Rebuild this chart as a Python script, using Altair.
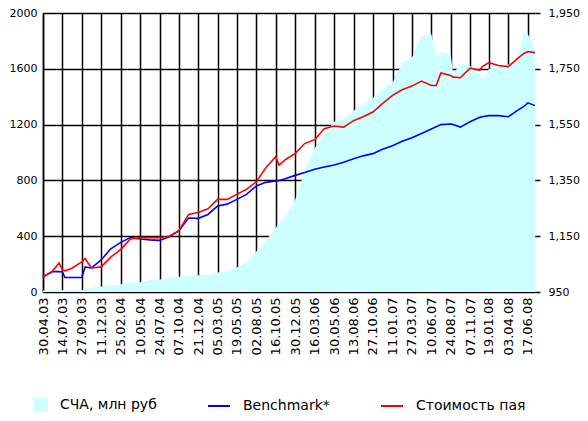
import altair as alt
import pandas as pd

# ---- data ----
dates = [
    "30.04.03", "06.06.03", "01.07.03", "14.07.03", "24.07.03", "20.08.03", "27.09.03", "10.10.03",
    "03.11.03", "11.12.03", "17.01.04", "25.02.04", "02.04.04", "10.05.04", "16.06.04", "24.07.04",
    "30.08.04", "07.10.04", "13.11.04", "21.12.04", "27.01.05", "05.03.05", "11.04.05", "19.05.05",
    "25.06.05", "02.08.05", "08.09.05", "16.10.05", "29.10.05", "22.11.05", "30.12.05", "05.02.06",
    "16.03.06", "22.04.06", "30.05.06", "06.07.06", "13.08.06", "19.09.06", "27.10.06", "03.12.06",
    "11.01.07", "17.02.07", "27.03.07", "03.05.07", "10.06.07", "29.06.07", "17.07.07", "24.08.07",
    "03.09.07", "30.09.07", "07.11.07", "14.12.07", "24.12.07", "19.01.08", "25.02.08", "03.04.08",
    "10.05.08", "02.06.08", "17.06.08", "15.07.08",
]
nav = [
    10, 12, 12, 12, 12, 13, 14, 15,
    30, 40, 45, 55, 65, 70, 85, 90,
    100, 110, 115, 120, 125, 140, 150, 175,
    210, 290, 370, 460, 490, 540, 660, 870,
    1030, 1130, 1220, 1240, 1300, 1340, 1390, 1450,
    1500, 1640, 1680, 1835, 1850, 1690, 1720, 1700,
    1560, 1640, 1620, 1560, 1510, 1600, 1610, 1630,
    1660, 1865, 1850, 1750,
]
benchmark = [
    1004, 1023, 1023, 1022, 1002, 1002, 1002, 1040,
    1036, 1065, 1105, 1128, 1145, 1140, 1137, 1135,
    1148, 1170, 1215, 1214, 1228, 1258, 1265, 1282,
    1300, 1330, 1343, 1348, 1350, 1356, 1368, 1378,
    1390, 1398, 1405, 1415, 1428, 1438, 1446, 1462,
    1474, 1490, 1503, 1518, 1534, 1542, 1550, 1552,
    1550, 1541, 1560, 1576, 1578, 1582, 1582, 1578,
    1602, 1615, 1628, 1618,
]
unit_price = [
    1004, 1025, 1054, 1030, 1026, 1035, 1058, 1070,
    1036, 1040, 1075, 1103, 1140, 1145, 1145, 1145,
    1150, 1170, 1228, 1235, 1248, 1282, 1282, 1300,
    1318, 1345, 1395, 1435, 1405, 1424, 1446, 1482,
    1496, 1535, 1545, 1541, 1564, 1578, 1595, 1625,
    1655, 1675, 1688, 1706, 1690, 1690, 1735, 1726,
    1720, 1718, 1752, 1745, 1758, 1772, 1762, 1758,
    1788, 1805, 1812, 1808,
]
tick_labels = [
    "30.04.03", "14.07.03", "27.09.03", "11.12.03", "25.02.04", "10.05.04", "24.07.04",
    "07.10.04", "21.12.04", "05.03.05", "19.05.05", "02.08.05", "16.10.05", "30.12.05",
    "16.03.06", "30.05.06", "13.08.06", "27.10.06", "11.01.07", "27.03.07", "10.06.07",
    "24.08.07", "07.11.07", "19.01.08", "03.04.08", "17.06.08",
]
x_start, x_end = "30.04.03", "15.07.08"
left_ticks = [0, 400, 800, 1200, 1600, 2000]
right_ticks = [950, 1150, 1350, 1550, 1750, 1950]
nav_name = "СЧА, млн руб"
bench_name = "Benchmark*"
unit_name = "Стоимость пая"


def iso(s):
    d, m, y = s.split(".")
    return f"20{y}-{m}-{d}"


def dt(s):
    d, m, y = s.split(".")
    return alt.DateTime(year=2000 + int(y), month=int(m), date=int(d), utc=True)


df = pd.DataFrame({
    "date": [iso(s) for s in dates],
    "nav": nav,
    "bench": benchmark,
    "unit": unit_price,
    "nav_name": nav_name,
    "bench_name": bench_name,
    "unit_name": unit_name,
})

FONT = "DejaVu Sans"

x = alt.X(
    "date:T",
    title=None,
    scale=alt.Scale(type="utc", domain=[dt(x_start), dt(x_end)]),
    axis=alt.Axis(
        values=[dt(s) for s in tick_labels],
        format="%d.%m.%y",
        labelAngle=270,
        labelOverlap=False,
        grid=True,
        gridColor="black",
        gridWidth=1.5,
        domain=False,
        ticks=False,
        labelPadding=5,
        labelFontSize=13,
    ),
)

area = alt.Chart(df).mark_area(opacity=1, interpolate="linear").encode(
    x=x,
    y=alt.Y(
        "nav:Q",
        title=None,
        scale=alt.Scale(domain=[0, 2000], nice=False, zero=True),
        axis=alt.Axis(
            orient="left",
            values=left_ticks,
            format="d",
            grid=True,
            gridColor="black",
            gridWidth=1.5,
            domain=True,
            domainColor="black",
            domainWidth=1.5,
            ticks=False,
            labelPadding=6,
            labelFontSize=11,
        ),
    ),
    fill=alt.Fill(
        "nav_name:N",
        scale=alt.Scale(domain=[nav_name], range=["#ccffff"]),
        legend=alt.Legend(
            title=None, orient="none", legendX=-9, legendY=385,
            symbolType="square", symbolSize=196, symbolStrokeWidth=0,
            symbolOpacity=1,
        ),
    ),
)

right_scale = alt.Scale(domain=[950, 1950], nice=False, zero=False)

bench = alt.Chart(df).mark_line(strokeWidth=1.6).encode(
    x=x,
    y=alt.Y(
        "bench:Q",
        title=None,
        scale=right_scale,
        axis=alt.Axis(
            orient="right",
            values=right_ticks,
            format=",d",
            grid=False,
            domain=False,
            ticks=True,
            tickColor="black",
            tickSize=5,
            tickWidth=1.5,
            labelPadding=8,
            labelFontSize=11,
        ),
    ),
    stroke=alt.Stroke(
        "bench_name:N",
        scale=alt.Scale(domain=[bench_name], range=["#0000ff"]),
        legend=alt.Legend(
            title=None, orient="none", legendX=164, legendY=381,
            symbolType="stroke", symbolSize=484, symbolStrokeWidth=2,
        ),
    ),
)

unit = alt.Chart(df).mark_line(strokeWidth=1.6).encode(
    x=x,
    y=alt.Y("unit:Q", title=None, scale=right_scale, axis=None),
    color=alt.Color(
        "unit_name:N",
        scale=alt.Scale(domain=[unit_name], range=["#ff0000"]),
        legend=alt.Legend(
            title=None, orient="none", legendX=337, legendY=381,
            symbolType="stroke", symbolSize=484, symbolStrokeWidth=2,
        ),
    ),
)

chart = (
    alt.layer(area, bench, unit)
    .resolve_scale(y="independent", fill="independent", stroke="independent", color="independent")
    .properties(
        width=492,
        height=279,
        autosize=alt.AutoSizeParams(type="none"),
        padding={"left": 35, "top": 5, "right": 45, "bottom": 121},
        background="white",
    )
    .configure_view(stroke=None)
    .configure_axis(labelFont=FONT, labelColor="black")
    .configure_legend(labelFont=FONT, labelFontSize=14, labelColor="black", padding=0, labelOffset=12)
)

chart.save("out.html", embed_options={"renderer": "svg", "actions": False})
